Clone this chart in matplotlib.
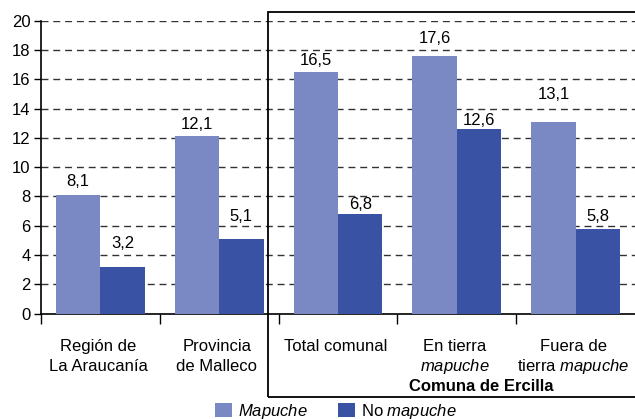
import matplotlib
matplotlib.use("Agg")
import matplotlib.pyplot as plt
from matplotlib.patches import Patch, Rectangle
from matplotlib.transforms import blended_transform_factory
import numpy as np

plt.rcParams['font.family'] = ['Liberation Sans', 'DejaVu Sans']
plt.rcParams['mathtext.fontset'] = 'custom'
plt.rcParams['mathtext.rm'] = 'Liberation Sans'
plt.rcParams['mathtext.it'] = 'Liberation Sans:italic'
plt.rcParams['mathtext.bf'] = 'Liberation Sans:bold'

# Data
categories_line1 = ["Región de", "Provincia", "Total comunal", "En tierra", "Fuera de"]
categories_line2 = ["La Araucanía", "de Malleco", "", r"$\mathit{mapuche}$", r"tierra $\mathit{mapuche}$"]
mapuche = [8.1, 12.1, 16.5, 17.6, 13.1]
no_mapuche = [3.2, 5.1, 6.8, 12.6, 5.8]
series_names = [r"$\mathit{Mapuche}$", r"No $\mathit{mapuche}$"]
group_label = "Comuna de Ercilla"
yticks = [0, 2, 4, 6, 8, 10, 12, 14, 16, 18, 20]

# label offsets above bars (points) - style only
off_mapuche = [10, 8.6, 7.9, 12.2, 19.4]
off_no = [16.6, 15.8, 6.5, 6.5, 8.6]

c_light = "#7a88c3"
c_dark = "#3952a4"
FS = 12

fig = plt.figure(figsize=(6.35, 4.19), dpi=100)
ax = fig.add_axes([41/635, (419 - 313.5)/419, 1 - 41/635, 292.8/419])

x = np.arange(len(mapuche))
w = 0.373
b1 = ax.bar(x - w/2, mapuche, w, color=c_light, edgecolor='none', zorder=3)
b2 = ax.bar(x + w/2, no_mapuche, w, color=c_dark, edgecolor='none', zorder=3)

def fmt(v):
    return f"{v:.1f}".replace(".", ",")

for bars, vals, offs in ((b1, mapuche, off_mapuche), (b2, no_mapuche, off_no)):
    for r, v, o in zip(bars, vals, offs):
        ax.annotate(fmt(v), (r.get_x() + r.get_width()/2, v), xytext=(0, o),
                    textcoords='offset points', ha='center', va='center', fontsize=FS)

ax.set_xlim(-0.5, len(mapuche) - 0.5)
ax.set_ylim(0, 20)
ax.set_yticks(yticks)
ax.set_yticklabels([str(t) for t in yticks], fontsize=FS)
ax.tick_params(axis='y', direction='out', length=5, width=1, pad=2.5)
ax.set_xticks(np.arange(len(mapuche)) - 0.5)
ax.set_xticklabels([])
ax.tick_params(axis='x', direction='out', length=7, width=1)

for t in yticks[1:]:
    ax.axhline(t, color='#333333', lw=1, ls=(0, (5, 3.5)), zorder=1)

for s in ['top', 'right']:
    ax.spines[s].set_visible(False)
ax.spines['left'].set_linewidth(1.2)
ax.spines['bottom'].set_linewidth(1.2)

tr = blended_transform_factory(ax.transData, fig.transFigure)
for i, (l1, l2) in enumerate(zip(categories_line1, categories_line2)):
    ax.text(i - 0.02, 1 - 346.7/419, l1, transform=tr, ha='center', va='center', fontsize=FS)
    if l2:
        ax.text(i - 0.02, 1 - 366/419, l2, transform=tr, ha='center', va='center', fontsize=FS)

fig.text(481/635, 1 - 386.7/419, group_label, ha='center', va='center', fontsize=FS, fontweight='bold')

# Box around Comuna de Ercilla
rect = Rectangle((268/635, 1 - 396.7/419), 1.0, (396.7 - 12)/419, transform=fig.transFigure,
                 fill=False, edgecolor='black', lw=1.3, clip_on=False, zorder=5)
fig.add_artist(rect)

handles = [Patch(facecolor=c_light), Patch(facecolor=c_dark)]
fig.legend(handles, series_names, loc='center', bbox_to_anchor=(336/635, 8/419), ncol=2,
           frameon=False, fontsize=FS, handlelength=1.0, handleheight=0.9,
           handletextpad=0.35, columnspacing=1.85, borderpad=0, borderaxespad=0)

fig.savefig("out.png", dpi=100)
